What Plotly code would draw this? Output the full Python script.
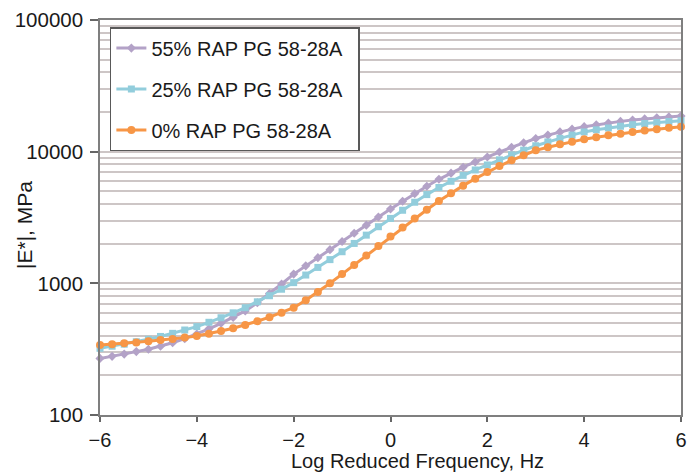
import plotly.graph_objects as go

# Log reduced frequency (Hz), step 0.25 from -6 to 6
log_freq = [-6.0, -5.75, -5.5, -5.25, -5.0, -4.75, -4.5, -4.25, -4.0, -3.75, -3.5, -3.25,
            -3.0, -2.75, -2.5, -2.25, -2.0, -1.75, -1.5, -1.25, -1.0, -0.75, -0.5, -0.25,
            0.0, 0.25, 0.5, 0.75, 1.0, 1.25, 1.5, 1.75, 2.0, 2.25, 2.5, 2.75,
            3.0, 3.25, 3.5, 3.75, 4.0, 4.25, 4.5, 4.75, 5.0, 5.25, 5.5, 5.75, 6.0]

# |E*| in MPa
rap55 = [269, 279, 290, 303, 316, 333, 354, 380, 412, 451, 497, 551,
         617, 713, 836, 989, 1175, 1358, 1567, 1803, 2080, 2399, 2767, 3192,
         3673, 4207, 4797, 5458, 6166, 6871, 7621, 8356, 9120, 9931, 10789, 11668,
         12589, 13366, 14125, 14825, 15488, 16032, 16520, 16982, 17378, 17742, 18072, 18365, 18621]

rap25 = [321, 333, 345, 360, 376, 395, 417, 442, 469, 506, 548, 597,
         653, 724, 805, 902, 1012, 1156, 1321, 1514, 1738, 2009, 2323, 2692,
         3112, 3589, 4130, 4721, 5346, 5957, 6607, 7261, 7925, 8670, 9462, 10257,
         11092, 11858, 12618, 13366, 14125, 14655, 15136, 15596, 16032, 16368, 16672, 16943, 17179]

rap0 = [340, 345, 351, 356, 363, 371, 378, 387, 398, 414, 434, 456,
        483, 515, 553, 598, 653, 745, 861, 1002, 1175, 1380, 1626, 1919,
        2265, 2655, 3105, 3622, 4217, 4831, 5521, 6237, 6998, 7780, 8590, 9397,
        10233, 10814, 11376, 11912, 12445, 12882, 13305, 13709, 14125, 14488, 14825, 15171, 15488]

series_names = ["55% RAP PG 58-28A", "25% RAP PG 58-28A", "0% RAP PG 58-28A"]
series_colors = ["#B3A2C7", "#92CDDC", "#F79646"]
series_symbols = ["diamond", "square", "circle"]
series_sizes = [7, 7, 8]

x_ticks = [-6, -4, -2, 0, 2, 4, 6]
y_ticks = [100, 1000, 10000, 100000]
y_tick_text = ["100", "1000", "10000", "100000"]
y_minor = [m * 10 ** d for d in (2, 3, 4) for m in range(2, 10)]

x_title = "Log Reduced Frequency, Hz"
y_title = "|E*|, MPa"

FONT = "Liberation Sans, Arial, sans-serif"
W, H = 699, 475
ML, MR, MT, MB = 100, 18, 20, 60

fig = go.Figure()
for name, vals, col, sym, sz in zip(series_names, [rap55, rap25, rap0],
                                    series_colors, series_symbols, series_sizes):
    fig.add_trace(go.Scatter(
        x=log_freq, y=vals, name=name + "\u00a0\u00a0", mode="lines+markers",
        line=dict(color=col, width=3),
        marker=dict(symbol=sym, size=sz, color=col),
        legendgroup=name, cliponaxis=False,
    ))

fig.update_layout(
    width=W, height=H,
    margin=dict(l=ML, r=MR, t=MT, b=MB),
    paper_bgcolor="white", plot_bgcolor="white",
    font=dict(family=FONT, size=20, color="#1a1a1a"),
    showlegend=True,
    legend=dict(
        x=0.017, y=0.982, xanchor="left", yanchor="top",
        bgcolor="white", bordercolor="#595959", borderwidth=1.5,
        font=dict(size=20, color="#1a1a1a"),
        tracegroupgap=12, itemwidth=30,
    ),
    annotations=[
        dict(text=x_title, xref="paper", yref="paper",
             x=(417 - ML) / (W - ML - MR), y=-(461 - (H - MB)) / (H - MT - MB),
             xanchor="center", yanchor="middle", showarrow=False,
             font=dict(size=20, family=FONT, color="#1a1a1a")),
        dict(text=y_title, xref="paper", yref="paper", textangle=-90,
             x=-(ML - 24) / (W - ML - MR), y=((H - MB) - 225) / (H - MT - MB),
             xanchor="center", yanchor="middle", showarrow=False,
             font=dict(size=21, family=FONT, color="#1a1a1a")),
    ],
)

fig.update_xaxes(
    range=[-6, 6], tickmode="array", tickvals=x_ticks,
    ticks="outside", ticklen=5, tickwidth=1.5, tickcolor="#666666",
    showline=True, linecolor="#7f7f7f", linewidth=1.5, mirror=True,
    showgrid=False, zeroline=False, automargin=False,
    tickfont=dict(size=20), ticklabelstandoff=1,
)

fig.update_yaxes(
    type="log", range=[2, 5], tickmode="array", tickvals=y_ticks, ticktext=y_tick_text,
    ticks="outside", ticklen=8, tickwidth=1.5, tickcolor="#666666",
    showline=True, linecolor="#7f7f7f", linewidth=1.5, mirror=True,
    showgrid=True, gridcolor="#cdc6c6", gridwidth=1.5,
    minor=dict(tickmode="array", tickvals=y_minor, showgrid=True,
               gridcolor="#cdc6c6", gridwidth=1.5, ticks=""),
    zeroline=False, automargin=False,
    tickfont=dict(size=20.5), ticklabelstandoff=3,
)

fig.write_html("out.html", config={"displayModeBar": False},
               post_script="document.body.style.margin='0';")
